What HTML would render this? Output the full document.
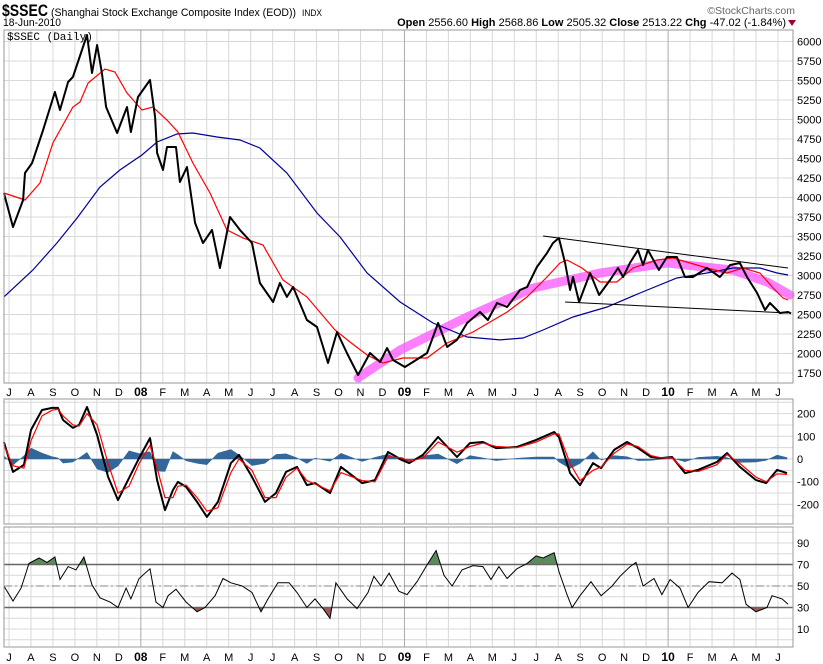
<!DOCTYPE html>
<html><head><meta charset="utf-8">
<style>
html,body{margin:0;padding:0;background:#fff;}
body{width:823px;height:664px;overflow:hidden;font-family:"Liberation Sans",sans-serif;}
svg{display:block}
</style></head>
<body>
<svg id="chart" width="823" height="664" xmlns="http://www.w3.org/2000/svg" font-family="Liberation Sans, sans-serif">
  <g>
    <text x="2" y="16" font-size="17" font-weight="bold" textLength="46" lengthAdjust="spacingAndGlyphs">$SSEC</text>
    <text x="51" y="16" font-size="11" textLength="245" lengthAdjust="spacingAndGlyphs">(Shanghai Stock Exchange Composite Index (EOD))</text>
    <text x="302" y="16" font-size="9" textLength="20" lengthAdjust="spacingAndGlyphs">INDX</text>
    <text x="795" y="14" font-size="10.5" fill="#666" text-anchor="end">©StockCharts.com</text>
    <text x="3" y="26" font-size="11" textLength="58" lengthAdjust="spacingAndGlyphs">18-Jun-2010</text>
    <text x="786" y="26" font-size="11" text-anchor="end"><tspan font-weight="bold">Open</tspan> 2556.60 <tspan font-weight="bold">High</tspan> 2568.86 <tspan font-weight="bold">Low</tspan> 2505.32 <tspan font-weight="bold">Close</tspan> 2513.22 <tspan font-weight="bold">Chg</tspan> -47.02 (-1.84%)</text>
    <path d="M788,20 L796,20 L792,26 Z" fill="#a0002a"/>
  </g>
  <g id="grid"></g>
  <g id="marks"></g>
  <g id="frames"></g>
</svg>
<script>
// ---- data (t = months since 1-Jul-2007) ----
var priceT=[-0.23,0.18,0.64,0.73,1.05,1.55,2.09,2.32,2.69,2.91,3.55,3.78,4.01,4.23,4.42,4.92,5.37,5.55,5.87,6.42,6.65,6.74,7.01,7.19,7.60,7.78,8.10,8.47,8.83,9.24,9.60,10.06,10.51,11.06,11.42,12.02,12.33,12.65,12.93,13.56,14.02,14.52,14.93,15.38,15.89,16.43,16.89,17.21,17.48,18.02,18.39,19.03,19.53,19.94,20.39,20.85,21.44,21.80,22.21,22.67,23.26,23.58,24.03,24.49,24.76,25.03,25.31,25.54,25.67,25.95,26.45,26.86,27.36,27.72,27.95,28.26,28.63,28.86,29.08,29.58,29.95,30.40,30.77,31.13,31.77,32.36,32.82,33.27,33.59,34.05,34.41,34.64,35.09,35.46,35.60];
var priceV=[4058,3622,3968,4314,4442,4865,5353,5122,5481,5545,6083,5596,5955,5596,5160,4827,5160,4840,5288,5506,5032,4571,4353,4647,4647,4199,4391,3673,3417,3584,3096,3750,3584,3417,2904,2660,2904,2725,2853,2430,2340,1878,2276,2007,1725,2007,1891,2071,1917,1827,1891,2007,2391,2084,2174,2391,2532,2430,2648,2596,2814,2853,3109,3289,3417,3481,3160,2814,2981,2660,3032,2750,2942,3096,2981,3160,3327,3135,3327,3070,3237,3237,2981,2981,3096,2981,3135,3160,2981,2776,2558,2648,2519,2532,2513];
var ma50T=[-0.23,0.73,1.41,2.00,2.91,3.23,3.60,4.37,4.82,5.37,6.05,6.55,7.19,7.69,8.37,9.15,9.92,10.65,11.56,12.47,13.56,14.84,15.52,16.30,17.02,17.93,19.03,19.94,21.12,22.67,23.58,24.49,25.08,25.40,26.08,26.90,27.67,28.40,29.49,30.22,31.00,31.77,32.68,33.41,34.18,34.78,35.23,35.46];
var ma50V=[4058,3968,4186,4699,5160,5224,5468,5647,5609,5340,5122,5160,4994,4840,4442,4058,3584,3481,3391,2942,2725,2301,2148,1981,1878,1942,1942,2135,2276,2532,2725,2981,3160,3199,3096,2917,2917,3096,3199,3224,3160,3096,3032,3096,3032,2840,2712,2686];
var ma200T=[-0.23,1.09,2.18,3.10,4.14,5.05,6.05,6.74,7.65,8.37,9.47,10.51,11.42,12.65,14.02,15.07,16.30,17.80,19.30,20.85,22.35,23.40,24.31,25.67,27.22,28.72,30.40,31.77,32.95,34.18,34.96,35.46];
var ma200V=[2725,3070,3417,3737,4135,4353,4545,4712,4814,4827,4776,4737,4635,4314,3801,3494,3032,2660,2391,2212,2174,2199,2301,2468,2596,2776,2968,3032,3096,3096,3032,3006];
var arcT=[15.89,17.80,20.85,23.85,26.90,29.95,32.95,34.50,35.55];
var arcV=[1687,2045,2468,2840,3032,3160,3070,2917,2750];
var upperTrendT=[24.31,35.46], upperTrendV=[3507,3096];
var lowerTrendT=[25.31,35.46], lowerTrendV=[2660,2519];
var priceTicks=[1750,2000,2250,2500,2750,3000,3250,3500,3750,4000,4250,4500,4750,5000,5250,5500,5750,6000];

var macdT=[-0.23,0.18,0.68,1.00,1.50,1.96,2.23,2.46,2.91,3.19,3.55,4.01,4.51,4.96,5.46,5.92,6.42,6.74,7.10,7.46,7.69,8.06,8.56,9.01,9.51,10.10,10.47,11.06,11.65,12.15,12.61,13.11,13.56,13.93,14.61,15.11,16.07,16.66,17.25,17.88,18.21,18.84,19.53,20.39,20.98,21.57,22.17,23.12,23.99,24.81,25.03,25.54,25.99,26.58,26.95,27.54,28.13,28.63,29.22,29.68,30.18,30.77,31.36,32.22,32.68,33.27,34.00,34.46,34.96,35.41];
var macdV=[75,-57,-26,128,216,225,225,172,137,150,229,106,-79,-181,-84,4,92,-93,-225,-137,-101,-123,-189,-255,-189,-18,18,-79,-189,-150,-57,-35,-115,-106,-150,-35,-106,-93,31,-4,-18,18,97,9,70,75,48,53,84,119,97,-62,-115,-18,-40,40,75,48,9,4,9,-62,-48,-13,26,-35,-93,-106,-48,-62];
var signalV=[60,-30,-40,80,190,215,220,190,150,145,200,150,-20,-150,-120,-20,60,-40,-170,-170,-120,-115,-170,-230,-215,-60,0,-50,-170,-170,-80,-40,-95,-110,-140,-60,-95,-100,10,5,-10,5,75,30,55,70,55,50,75,110,110,-20,-95,-50,-35,25,65,55,15,5,5,-50,-55,-25,20,-20,-80,-100,-65,-68];
var macdTicks=[-200,-100,0,100,200];

var rsiT=[-0.23,0.18,0.55,0.91,1.37,1.73,2.09,2.32,2.69,3.05,3.41,3.78,4.14,4.60,4.96,5.33,5.55,5.92,6.42,6.69,7.01,7.24,7.60,8.06,8.56,8.92,9.38,9.74,10.10,10.61,11.06,11.47,11.79,12.24,12.75,13.11,13.56,13.93,14.29,14.61,14.88,15.39,15.84,16.34,16.61,16.93,17.30,17.75,18.12,18.57,19.07,19.44,19.80,20.17,20.62,21.12,21.57,21.94,22.30,22.67,23.12,23.58,23.99,24.31,24.81,25.04,25.40,25.63,25.99,26.49,26.95,27.45,27.81,28.27,28.54,28.86,29.36,29.72,30.09,30.54,30.91,31.36,31.86,32.46,32.91,33.27,33.55,34.00,34.50,34.73,35.19,35.46];
var rsiV=[50,36,48,71,76,72,77,56,68,65,77,51,39,35,30,48,38,57,66,35,30,41,47,35,26,30,41,57,53,50,44,26,38,53,53,44,30,38,29,20,53,38,29,44,59,50,62,45,42,54,71,83,60,50,65,69,68,56,68,57,66,71,78,76,81,63,42,30,41,54,41,50,59,68,72,50,57,42,56,48,30,44,54,53,62,56,33,26,30,41,38,33];
var rsiTicks=[10,30,50,70,90];

var monthLabels=["J","A","S","O","N","D","08","F","M","A","M","J","J","A","S","O","N","D","09","F","M","A","M","J","J","A","S","O","N","D","10","F","M","A","M","J"];

// ---- axes ----
var L=4,R=793;
function X(t){return 9+21.97*t;}
var MP={top:30,bot:383}; function YP(v){return 41.5+(6000-v)/250*19.5;}
var MM={top:399,bot:524}; function YM(v){return 459-v*0.227;}
var MR={top:527,bot:647}; function YR(v){return 586-(v-50)*1.075;}

var NS="http://www.w3.org/2000/svg";
var grid=document.getElementById('grid'),marks=document.getElementById('marks'),frames=document.getElementById('frames');
function mk(tag,attrs,parent){var e=document.createElementNS(NS,tag);for(var k in attrs)e.setAttribute(k,attrs[k]);(parent||marks).appendChild(e);return e;}
function pathFrom(ts,vs,yf){var n=Math.min(ts.length,vs.length),d="";for(var i=0;i<n;i++)d+=(i?"L":"M")+X(ts[i]).toFixed(1)+","+yf(vs[i]).toFixed(1);return d;}

function panelGrid(p,name,hvals,yf){
  for(var i=0;i<hvals.length;i++){var y=yf(hvals[i]);if(y<p.top||y>p.bot)continue;
    var g=mk('line',{x1:L,x2:R,y1:y,y2:y,stroke:'#d8d8d8','stroke-width':1},grid);
    }
  for(var m=0;m<monthLabels.length;m++){var x=X(m);var yr=/\d/.test(monthLabels[m]);
    var v=mk('line',{x1:x,x2:x,y1:p.top,y2:p.bot,stroke:yr?'#aaa':'#d8d8d8','stroke-width':1},grid);
    }
  var f=mk('rect',{x:L,y:p.top,width:R-L,height:p.bot-p.top,fill:'none',stroke:'#999','stroke-width':1},frames);
  
}
var pg=[];for(var v=1750;v<=6000;v+=250)pg.push(v);
panelGrid(MP,'price-panel',pg,YP);
var mg=[];for(var v=-250;v<=250;v+=50)mg.push(v);
panelGrid(MM,'macd-panel',mg,YM);
var rg=[];for(var v=0;v<=100;v+=10)rg.push(v);
panelGrid(MR,'rsi-panel',rg,YR);

function ticks(arr,yf,name){for(var i=0;i<arr.length;i++){var t=mk('text',{x:797,y:yf(arr[i])+4,'font-size':11,fill:'#000'},frames);t.textContent=arr[i];
  }}
ticks(priceTicks,YP,'price-tick-label');ticks(macdTicks,YM,'macd-tick-label');ticks(rsiTicks,YR,'rsi-tick-label');

function months(y,name){for(var m=0;m<monthLabels.length;m++){var yr=/\d/.test(monthLabels[m]);
  var t=mk('text',{x:X(m),y:y,'font-size':yr?12:11,'font-weight':yr?'bold':'normal','text-anchor':'middle'},frames);t.textContent=monthLabels[m];
  }}
months(396,'month-label');months(661,'month-label-bottom');

var pl=mk('text',{x:7,y:40,'font-size':11,'font-family':'Liberation Mono, monospace'},frames);pl.textContent="$SSEC (Daily)";


// ---- price panel ----
var a=mk('path',{d:pathFrom(arcT,arcV,YP),fill:'none',stroke:'#ff55ff','stroke-opacity':0.75,'stroke-width':9,'stroke-linecap':'round'});

var b=mk('path',{d:pathFrom(ma200T,ma200V,YP),fill:'none',stroke:'#000099','stroke-width':1.2});

var r=mk('path',{d:pathFrom(ma50T,ma50V,YP),fill:'none',stroke:'#ff0000','stroke-width':1.2});

var ut=mk('path',{d:pathFrom(upperTrendT,upperTrendV,YP),stroke:'#000','stroke-width':1});

var lt=mk('path',{d:pathFrom(lowerTrendT,lowerTrendV,YP),stroke:'#000','stroke-width':1});

var p=mk('path',{d:pathFrom(priceT,priceV,YP),fill:'none',stroke:'#000','stroke-width':2,'stroke-linejoin':'round'});


// ---- MACD panel ----
var hd="M"+X(macdT[0]).toFixed(1)+","+YM(0);
for(var i=0;i<macdT.length;i++)hd+="L"+X(macdT[i]).toFixed(1)+","+YM(macdV[i]-signalV[i]).toFixed(1);
hd+="L"+X(macdT[macdT.length-1]).toFixed(1)+","+YM(0)+"Z";
var h=mk('path',{d:hd,fill:'#336699',stroke:'#336699','stroke-width':0.5});

var ml=mk('path',{d:pathFrom(macdT,macdV,YM),fill:'none',stroke:'#000','stroke-width':2,'stroke-linejoin':'round'});

var sl=mk('path',{d:pathFrom(macdT,signalV,YM),fill:'none',stroke:'#ff0000','stroke-width':1.2});


// ---- RSI panel ----
var defs=mk('defs',{});
var c1=mk('clipPath',{id:'above70'},defs);mk('rect',{x:L,y:MR.top,width:R-L,height:YR(70)-MR.top},c1);
var c2=mk('clipPath',{id:'below30'},defs);mk('rect',{x:L,y:YR(30),width:R-L,height:MR.bot-YR(30)},c2);
var rp=pathFrom(rsiT,rsiV,YR);var x0=X(rsiT[0]).toFixed(1),x1=X(rsiT[rsiT.length-1]).toFixed(1);
var g1=mk('path',{d:rp+"L"+x1+","+YR(70)+"L"+x0+","+YR(70)+"Z",fill:'#5c8a5c','clip-path':'url(#above70)'});

var g2=mk('path',{d:rp+"L"+x1+","+YR(30)+"L"+x0+","+YR(30)+"Z",fill:'#9a5a5a','clip-path':'url(#below30)'});

var l70=mk('line',{x1:L,x2:R,y1:YR(70),y2:YR(70),stroke:'#666','stroke-width':1.5});

var l30=mk('line',{x1:L,x2:R,y1:YR(30),y2:YR(30),stroke:'#666','stroke-width':1.5});

var l50=mk('line',{x1:L,x2:R,y1:YR(50),y2:YR(50),stroke:'#888','stroke-width':1,'stroke-dasharray':'8,3,2,3'});

var rl=mk('path',{d:rp,fill:'none',stroke:'#000','stroke-width':1});

</script>
</body></html>
